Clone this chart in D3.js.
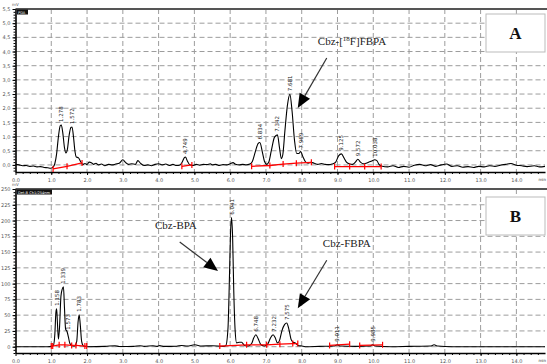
<!DOCTYPE html>
<html>
<head>
<meta charset="utf-8">
<script src="https://cdn.jsdelivr.net/npm/d3@7"></script>
<style>
  body { margin: 0; background: #fff; }
  svg { display: block; }
  .grid line { stroke: #9c9c9c; stroke-dasharray: 5,3; stroke-width: 1; }
  .axis path, .axis line { stroke: #000; }
  .axis text { font-family: "DejaVu Sans", sans-serif; font-size: 5px; fill: #555; }
  .peak { font-family: "DejaVu Sans", sans-serif; font-size: 5.5px; fill: #222; }
  .note { font-family: "Liberation Serif", serif; font-size: 11px; fill: #222; }
</style>
</head>
<body>
<div id="chart"></div>
<script>
// retention time axis (min)
const timeTicks = [0, 1, 2, 3, 4, 5, 6, 7, 8, 9, 10, 11, 12, 13, 14];
const timeLabels = ["0.0", "1.0", "2.0", "3.0", "4.0", "5.0", "6.0", "7.0", "8.0", "9.0", "10.0", "11.0", "12.0", "13.0", "14.0"];

// panel A (radio detector)
const yTicksA = [0, 0.5, 1, 1.5, 2, 2.5, 3, 3.5, 4, 4.5, 5];
const yLabelsA = ["0,0", "0,5", "1,0", "1,5", "2,0", "2,5", "3,0", "3,5", "4,0", "4,5", "5,0"];
const traceA = [
  [0.00, 0.02], [0.10, 0.00], [0.20, -0.03], [0.30, -0.02], [0.40, -0.05], [0.50, -0.04], [0.60, -0.07],
  [0.70, -0.06], [0.80, -0.09], [0.90, -0.10], [0.98, -0.12], [1.05, -0.08], [1.10, 0.05], [1.15, 0.40],
  [1.20, 1.00], [1.25, 1.38], [1.28, 1.41], [1.32, 1.15], [1.37, 0.60], [1.41, 0.42], [1.45, 0.55],
  [1.50, 1.05], [1.55, 1.32], [1.58, 1.34], [1.62, 1.00], [1.66, 0.50], [1.70, 0.28], [1.76, 0.25],
  [1.82, 0.12], [1.88, 0.02], [1.94, 0.05], [2.00, 0.02], [2.06, 0.10], [2.12, 0.08], [2.18, 0.02],
  [2.25, 0.06], [2.32, 0.00], [2.40, 0.03], [2.50, -0.03], [2.60, 0.02], [2.70, 0.00], [2.80, 0.03],
  [2.90, 0.06], [3.00, 0.18], [3.08, 0.08], [3.16, 0.02], [3.25, 0.04], [3.35, 0.02], [3.42, 0.15],
  [3.50, 0.05], [3.60, -0.02], [3.70, 0.00], [3.80, -0.03], [3.90, 0.02], [4.00, 0.04], [4.10, 0.00],
  [4.20, 0.03], [4.30, -0.02], [4.40, 0.02], [4.50, -0.02], [4.60, 0.00], [4.66, 0.10], [4.72, 0.26],
  [4.75, 0.28], [4.80, 0.15], [4.86, 0.02], [4.95, -0.02], [5.05, 0.02], [5.15, -0.01], [5.25, 0.02],
  [5.35, 0.01], [5.45, 0.04], [5.50, 0.00], [5.60, 0.02], [5.70, -0.02], [5.80, 0.01], [5.90, 0.00],
  [6.00, 0.04], [6.08, 0.08], [6.15, 0.02], [6.25, 0.00], [6.35, 0.02], [6.45, 0.00], [6.55, 0.03],
  [6.62, 0.12], [6.70, 0.45], [6.78, 0.75], [6.83, 0.79], [6.90, 0.45], [6.96, 0.12], [7.02, 0.02],
  [7.08, 0.10], [7.15, 0.50], [7.24, 0.98], [7.32, 1.06], [7.38, 0.60], [7.43, 0.22], [7.47, 0.35],
  [7.53, 1.20], [7.60, 2.10], [7.67, 2.49], [7.73, 1.90], [7.80, 0.85], [7.86, 0.40], [7.92, 0.40],
  [7.97, 0.47], [8.03, 0.30], [8.10, 0.12], [8.18, 0.06], [8.26, 0.09], [8.35, 0.06], [8.45, 0.02],
  [8.55, 0.05], [8.65, 0.02], [8.75, 0.01], [8.85, 0.03], [8.95, 0.10], [9.03, 0.32], [9.11, 0.39],
  [9.18, 0.25], [9.25, 0.10], [9.33, 0.04], [9.42, 0.02], [9.50, 0.10], [9.57, 0.20], [9.64, 0.10],
  [9.72, 0.04], [9.80, 0.06], [9.88, 0.10], [9.96, 0.14], [10.04, 0.18], [10.10, 0.15], [10.16, 0.02],
  [10.25, -0.05], [10.40, -0.07], [10.55, -0.03], [10.70, -0.09], [10.85, -0.05], [11.00, -0.08],
  [11.15, -0.01], [11.30, 0.02], [11.45, -0.03], [11.60, 0.01], [11.75, -0.05], [11.90, 0.00],
  [12.05, 0.03], [12.20, -0.05], [12.35, -0.03], [12.50, -0.08], [12.65, -0.06], [12.80, -0.09],
  [12.95, -0.05], [13.10, -0.07], [13.25, -0.03], [13.40, -0.05], [13.55, -0.01], [13.70, 0.02],
  [13.85, 0.05], [14.00, -0.01], [14.15, -0.03], [14.30, -0.06], [14.50, -0.03], [14.65, -0.07], [14.80, -0.05]
];
const peaksA = [
  [1.27, 1.41, "1.278"], [1.57, 1.34, "1.572"], [4.75, 0.28, "4.749"], [6.83, 0.79, "6.834"],
  [7.32, 1.06, "7.342"], [7.67, 2.49, "7.681"], [7.97, 0.47, "7.969"], [9.11, 0.39, "9.125"],
  [9.57, 0.20, "9.572"], [10.04, 0.18, "10.038"]
];
const baselinesA = [
  [[1.05, -0.14], [1.44, -0.05], [1.86, 0.07]],
  [[4.65, -0.05], [4.93, 0.00]],
  [[6.60, -0.05], [7.11, -0.02], [7.48, 0.03], [7.85, 0.06], [8.27, 0.09]],
  [[8.92, -0.06], [9.34, -0.06], [9.76, -0.06], [10.22, -0.06]]
];

// panel B (UV detector)
const yTicksB = [0, 25, 50, 75, 100, 125, 150, 175, 200, 225];
const yLabelsB = ["0", "25", "50", "75", "100", "125", "150", "175", "200", "225"];
const traceB = [
  [0.00, 0], [0.50, 0], [0.90, 0], [1.00, 0.5], [1.06, 2], [1.10, 20], [1.13, 55], [1.15, 60],
  [1.17, 40], [1.20, 12], [1.23, 30], [1.27, 80], [1.30, 90], [1.34, 95], [1.37, 60], [1.40, 28],
  [1.44, 24], [1.48, 15], [1.52, 5], [1.58, 2], [1.65, 1], [1.71, 8], [1.75, 40], [1.78, 50.6],
  [1.81, 35], [1.85, 8], [1.90, 1], [2.00, 0], [2.50, 0.5], [2.78, 1.5], [2.90, 0.3], [3.30, 0.5],
  [3.48, 1.5], [3.60, 0.5], [3.84, 1.5], [3.95, 0.5], [4.03, 2], [4.15, 0.5], [4.50, 0.8], [4.64, 2],
  [4.80, 1], [5.01, 3], [5.20, 1], [5.50, 1.5], [5.80, 0.5], [5.88, 2], [5.94, 30], [5.98, 110],
  [6.01, 180], [6.04, 204.6], [6.07, 170], [6.10, 90], [6.14, 25], [6.18, 6], [6.26, 7], [6.32, 7],
  [6.40, 2], [6.50, 1], [6.60, 5], [6.66, 14], [6.72, 19], [6.78, 13], [6.86, 3], [6.95, 1],
  [7.05, 4], [7.12, 13], [7.20, 19], [7.26, 14], [7.32, 6], [7.38, 10], [7.45, 26], [7.52, 35],
  [7.58, 37.5], [7.64, 28], [7.70, 12], [7.76, 7], [7.82, 6], [7.90, 2], [8.00, 1], [8.10, 0],
  [8.50, 0.5], [8.90, 1], [9.00, 3], [9.08, 1], [9.50, 0.5], [9.90, 1], [9.98, 3], [10.06, 1],
  [10.50, 0], [11.00, 0.5], [11.60, 1], [11.70, 3], [11.80, 1], [12.20, 0], [13.00, 0], [14.00, 0], [14.80, 0]
];
const peaksB = [
  [1.15, 60, "1.158"], [1.34, 95, "1.339"], [1.47, 22, "1.573"], [1.78, 50.6, "1.783"],
  [6.04, 204.6, "6.041"], [6.72, 19, "6.748"], [7.23, 19, "7.232"], [7.58, 37.5, "7.575"],
  [9.00, 3, "9.011"], [9.98, 3, "9.985"]
];
const baselinesB = [
  [[1.00, 1], [1.04, 1], [1.22, 3], [1.38, 3], [1.57, 2], [1.69, 2], [1.94, 1], [1.99, 1]],
  [[5.71, 1], [6.46, 3], [7.02, 3], [7.39, 4], [7.75, 5], [7.89, 5]],
  [[8.78, 2], [9.34, 4]],
  [[9.62, 2], [10.26, 3]]
];

// annotations: [text, textT, textV, fromT, fromV, tipT, tipV]
const notesA = [["Cbz-[18F]FBPA", 8.45, 4.23, 8.70, 3.77, 7.89, 2.01]];
const notesB = [
  ["Cbz-BPA", 3.90, 186, 4.59, 166, 5.66, 120],
  ["Cbz-FBPA", 8.59, 158, 8.70, 137, 7.89, 61]
];

const W = 547, H = 364;
const svg = d3.select("#chart").append("svg").attr("width", W).attr("height", H);

const x = d3.scaleLinear().domain([0, 14.8]).range([15.5, 545]);

const panels = [
  { name: "A", top: 9, bottom: 172, yDomain: [-0.25, 5.5], topLabel: "5,5", minor: 0.1,
    ticks: yTicksA, labels: yLabelsA, trace: traceA, peaks: peaksA, bases: baselinesA, notes: notesA,
    det: "PDA", detW: 11, box: [486, 14] },
  { name: "B", top: 189, bottom: 353, yDomain: [-10, 250], topLabel: "250", minor: 5,
    ticks: yTicksB, labels: yLabelsB, trace: traceB, peaks: peaksB, bases: baselinesB, notes: notesB,
    det: "Det.B Ch1/254nm", detW: 35, box: [486, 197] }
];

panels.forEach((p, pi) => {
  const y = d3.scaleLinear().domain(p.yDomain).range([p.bottom, p.top]);
  const g = svg.append("g");

  g.append("clipPath").attr("id", "clip" + pi)
    .append("rect").attr("x", x(0)).attr("y", p.top).attr("width", 545 - x(0)).attr("height", p.bottom - p.top);

  // grid
  const grid = g.append("g").attr("class", "grid");
  grid.selectAll(".v").data(timeTicks.filter(d => d > 0)).enter().append("line")
    .attr("x1", d => x(d)).attr("x2", d => x(d)).attr("y1", p.top).attr("y2", p.bottom);
  grid.selectAll(".h").data(p.ticks).enter().append("line")
    .attr("x1", x(0)).attr("x2", 545).attr("y1", d => y(d)).attr("y2", d => y(d));

  // top frame
  g.append("line").attr("x1", x(0)).attr("x2", W).attr("y1", p.top).attr("y2", p.top)
    .attr("stroke", "#555").attr("stroke-width", 2);

  // detector tag
  g.append("rect").attr("x", 17).attr("y", p.top + 0.5).attr("width", p.detW).attr("height", 5).attr("fill", "#111");
  g.append("text").attr("x", 18).attr("y", p.top + 4.6).attr("fill", "#fff")
    .style("font-family", "DejaVu Sans").style("font-size", "3.6px").text(p.det);

  // y axis
  const minorY = d3.range(Math.ceil(p.yDomain[0] / p.minor) * p.minor, p.yDomain[1] + 1e-9, p.minor);
  g.append("g").attr("class", "axis").attr("transform", `translate(${x(0)},0)`)
    .call(d3.axisLeft(y).tickValues(minorY).tickSize(2).tickFormat("").tickSizeOuter(0));
  const yAx = g.append("g").attr("class", "axis").attr("transform", `translate(${x(0)},0)`)
    .call(d3.axisLeft(y).tickValues(p.ticks.concat([p.yDomain[1]])).tickSize(3).tickPadding(2)
      .tickFormat((d, i) => i < p.labels.length ? p.labels[i] : p.topLabel).tickSizeOuter(0));
  yAx.select(".domain").attr("stroke-width", 1.2);
  g.append("text").attr("x", 12).attr("y", p.top - 3).attr("class", "axis")
    .style("font-family", "DejaVu Sans").style("font-size", "4px").attr("fill", "#555").text("mV");

  // x axis
  const xAx = g.append("g").attr("class", "axis").attr("transform", `translate(0,${p.bottom})`)
    .call(d3.axisBottom(x).tickValues(timeTicks).tickSize(3).tickPadding(3)
      .tickFormat((d, i) => timeLabels[i]).tickSizeOuter(0));
  xAx.select(".domain").attr("stroke-width", 1.5);
  g.append("g").attr("class", "axis").attr("transform", `translate(0,${p.bottom})`)
    .call(d3.axisBottom(x).tickValues(d3.range(0.2, 14.8, 0.2)).tickSize(2).tickFormat("").tickSizeOuter(0))
    .select(".domain").remove();
  g.append("text").attr("x", 546).attr("y", p.bottom + 9).attr("text-anchor", "end")
    .style("font-family", "DejaVu Sans").style("font-size", "4px").attr("fill", "#333").text("min");

  // trace
  const line = d3.line().x(d => x(d[0])).y(d => y(d[1])).curve(d3.curveMonotoneX);
  g.append("path").datum(p.trace).attr("d", line).attr("fill", "none")
    .attr("stroke", "#000").attr("stroke-width", 1.1).attr("clip-path", `url(#clip${pi})`);

  // integration baselines
  const bl = d3.line().x(d => x(d[0])).y(d => y(d[1]));
  p.bases.forEach(seg => {
    g.append("path").datum(seg).attr("d", bl).attr("fill", "none").attr("stroke", "#f00").attr("stroke-width", 1.3);
    g.selectAll(null).data(seg).enter().append("line")
      .attr("x1", d => x(d[0])).attr("x2", d => x(d[0]))
      .attr("y1", d => y(d[1]) - 3).attr("y2", d => y(d[1]) + 3)
      .attr("stroke", "#f00").attr("stroke-width", 1.2);
  });

  // peak retention time labels
  g.selectAll(".peak").data(p.peaks).enter().append("text").attr("class", "peak")
    .attr("transform", d => `translate(${x(d[0]) + 2},${y(d[1]) - 3}) rotate(-90)`)
    .text(d => d[2]);

  // panel letter box
  g.append("rect").attr("x", p.box[0]).attr("y", p.box[1]).attr("width", 59).attr("height", 38)
    .attr("fill", "#fff").attr("stroke", "#bbb").attr("stroke-width", 1);
  g.append("text").attr("x", p.box[0] + 29.5).attr("y", p.box[1] + 25).attr("text-anchor", "middle")
    .style("font-family", "Liberation Serif, serif").style("font-size", "17px").style("font-weight", "bold")
    .attr("fill", "#111").text(p.name);

  // compound annotations with arrows
  p.notes.forEach(n => {
    const t = g.append("text").attr("class", "note").attr("x", x(n[1])).attr("y", y(n[2]));
    if (n[0].includes("[18F]")) {
      t.append("tspan").text("Cbz-[");
      t.append("tspan").attr("dy", -4).style("font-size", "7px").text("18");
      t.append("tspan").attr("dy", 4).text("F]FBPA");
    } else {
      t.text(n[0]);
    }
    const x0 = x(n[3]), y0 = y(n[4]), x1 = x(n[5]), y1 = y(n[6]);
    const a = Math.atan2(y1 - y0, x1 - x0), len = 14, hw = 6;
    const bx = x1 - len * Math.cos(a), by = y1 - len * Math.sin(a);
    g.append("line").attr("x1", x0).attr("y1", y0).attr("x2", bx).attr("y2", by)
      .attr("stroke", "#333").attr("stroke-width", 1.2);
    g.append("polygon")
      .attr("points", [[x1, y1], [bx + hw * Math.sin(a), by - hw * Math.cos(a)], [bx - hw * Math.sin(a), by + hw * Math.cos(a)]].join(" "))
      .attr("fill", "#000");
  });
});
</script>
</body>
</html>
